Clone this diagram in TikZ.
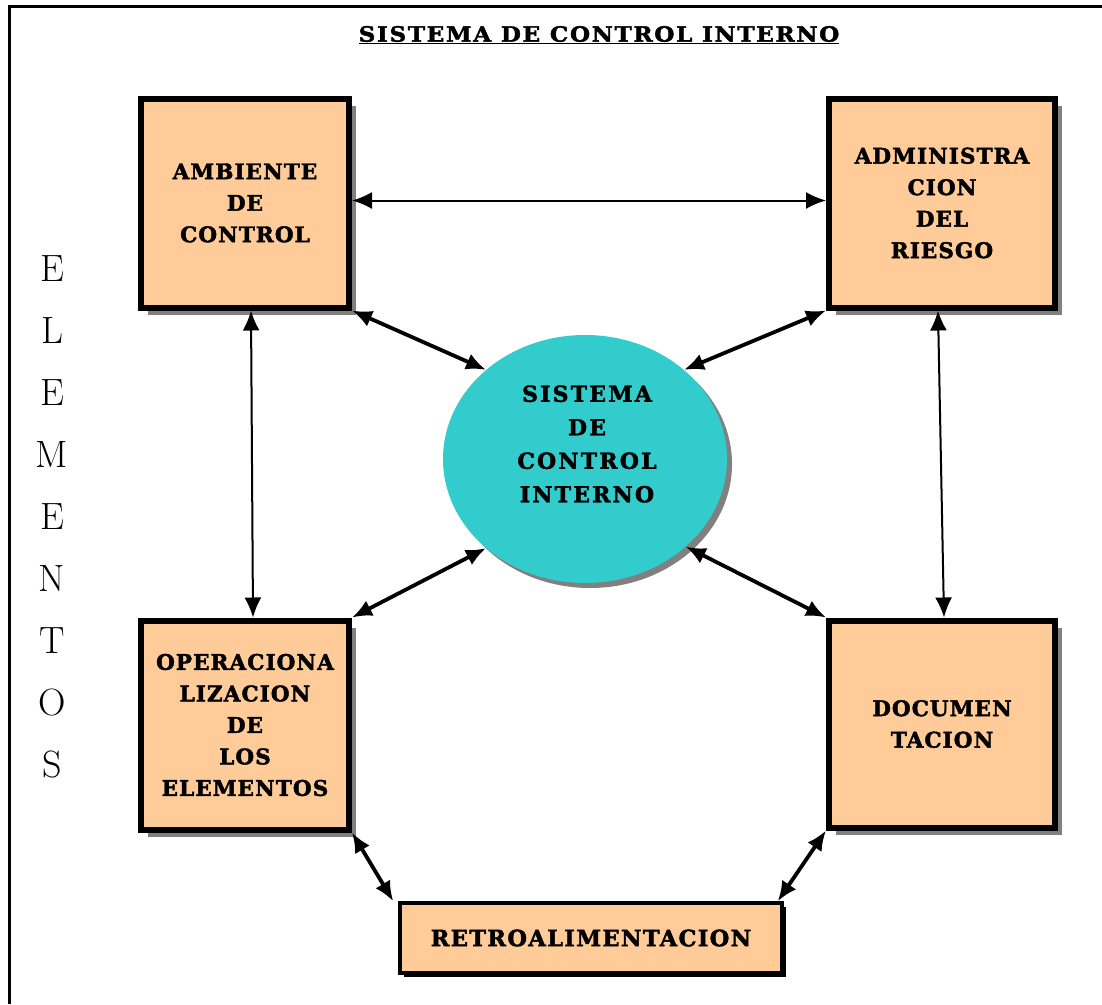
\documentclass[tikz,border=0pt]{standalone}
\usepackage{fontspec}
\newfontfamily\bkfont[FakeBold=2,LetterSpace=5]{DejaVu Serif Bold}
\newfontfamily\bkretro[FakeBold=2,LetterSpace=6]{DejaVu Serif Bold}
\newfontfamily\bkwide[FakeBold=2,LetterSpace=10]{DejaVu Serif Bold}
\newfontfamily\bktitle[FakeBold=2,FakeStretch=1.1,LetterSpace=8]{DejaVu Serif Bold}
\usetikzlibrary{arrows.meta,shadows,shapes.geometric,calc}
\definecolor{boxfill}{HTML}{FFCC99}
\definecolor{cyanfill}{HTML}{33CCCC}
\definecolor{shadowgray}{HTML}{808080}
\tikzset{
  elbox/.style={draw=black, line width=6pt, fill=boxfill, align=center,
    inner sep=0pt,
    font=\bkfont\fontsize{21.5}{31.5}\selectfont,
    drop shadow={shadow xshift=7pt, shadow yshift=-7pt, fill=shadowgray, opacity=1}},
  bighead/.tip={Latex[length=20pt,width=17pt]},
  thinarrow/.style={arrows={bighead-bighead}, line width=2pt},
  thickarrow/.style={arrows={bighead-bighead}, line width=3.8pt},
}
\begin{document}
\begin{tikzpicture}[x=1pt,y=-1pt]
\useasboundingbox (0,0) rectangle (1102,1004);
\fill[white] (0,0) rectangle (1102,1004);
% frame
\draw[line width=3pt] (9.5,1004) -- (9.5,6) -- (1102,6);
% title
\node[font=\bktitle\fontsize{21}{24}\selectfont, inner sep=0pt] (title) at (599,35) {\underline{SISTEMA DE CONTROL INTERNO}};
% side word
\node[align=center, font=\fontsize{38}{62}\selectfont\addfontfeatures{FakeBold=0.6}, inner sep=0pt] (elem) at (52,517) {E\\L\\E\\M\\E\\N\\T\\O\\S};
% boxes
\node[elbox, minimum width=208pt, minimum height=209pt] (amb) at (245,203) {AMBIENTE\\DE\\CONTROL};
\node[elbox, minimum width=226pt, minimum height=209pt] (adm) at (942,203) {ADMINISTRA\\CION\\DEL\\RIESGO};
\node[elbox, minimum width=208pt, minimum height=209pt] (oper) at (245,725) {OPERACIONA\\LIZACION\\DE\\LOS\\ELEMENTOS};
\node[elbox, minimum width=226pt, minimum height=207pt] (doc) at (942,724) {DOCUMEN\\TACION};
\node[draw=black, line width=3.5pt, fill=boxfill, inner sep=0pt,
  minimum width=382pt, minimum height=70pt,
  font=\bkretro\fontsize{22.5}{26}\selectfont,
  drop shadow={shadow xshift=4pt, shadow yshift=-4pt, fill=black, opacity=1}] (retro) at (591,938) {RETROALIMENTACION};
% central ellipse
\node[ellipse, fill=cyanfill, minimum width=284pt, minimum height=248pt, inner sep=0pt,
  drop shadow={shadow xshift=5pt, shadow yshift=-5pt, fill=shadowgray, opacity=1}] (sis) at (585,459) {};
\node[align=center, inner sep=0pt, font=\bkwide\fontsize{22}{33.5}\selectfont] (sistxt) at (587,444) {SISTEMA\\DE\\CONTROL\\INTERNO};
% connectors
\draw[thinarrow] ([yshift=2.5pt]amb.east) -- ([yshift=2.5pt]adm.west);
\draw[thinarrow] ([xshift=6pt]amb.south) -- ([xshift=8pt]oper.north);
\draw[thinarrow] ([xshift=-4pt]adm.south) -- ([xshift=2pt]doc.north);
\draw[thickarrow] (amb.south east) -- (sis.138);
\draw[thickarrow] (adm.south west) -- (sis.42);
\draw[thickarrow] (oper.north east) -- (sis.222);
\draw[thickarrow] (doc.north west) -- (sis.319);
\draw[thickarrow] (oper.south east) -- ([xshift=-5pt]retro.north west);
\draw[thickarrow] (doc.south west) -- ([xshift=-6pt]retro.north east);
\end{tikzpicture}
\end{document}
